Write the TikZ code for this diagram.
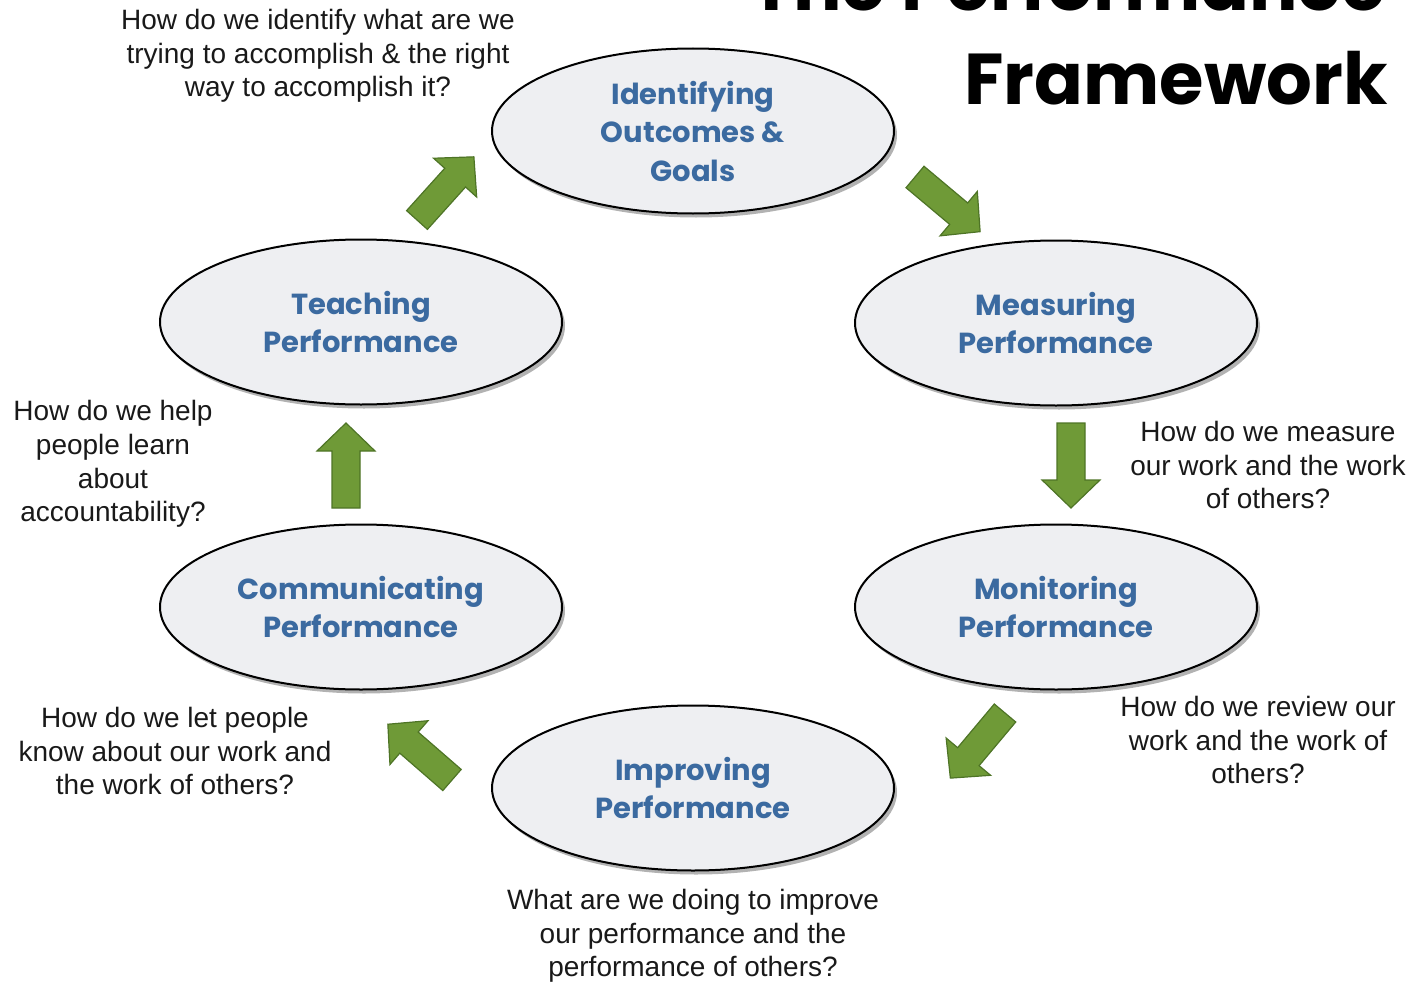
\documentclass[tikz,border=0pt]{standalone}
\usepackage{fontspec}
\setmainfont{Liberation Sans}
\newfontfamily\geofont{Poppins}
\usetikzlibrary{shapes.geometric,shadows}
\definecolor{ellfill}{HTML}{EEEFF2}
\definecolor{elltext}{HTML}{3B6AA0}
\definecolor{arrfill}{HTML}{6F9A37}
\definecolor{arrline}{HTML}{4E7426}
\newcommand{\garrow}[3]{%
  \begin{scope}[shift={(#1,#2)},rotate=#3]
    \draw[arrowshape] (0pt,-14pt) -- (57pt,-14pt) -- (57pt,-29pt) -- (85pt,0pt) -- (57pt,29pt) -- (57pt,14pt) -- (0pt,14pt) -- cycle;
  \end{scope}}
\tikzset{
  stage/.style={ellipse, draw=black, line width=2pt, fill=ellfill,
    minimum width=402pt, minimum height=165pt, inner sep=0pt,
    align=center, text=elltext,
    font=\geofont\bfseries\fontsize{29}{38.5}\selectfont,
    drop shadow={shadow xshift=3pt, shadow yshift=-4pt, opacity=0.3, fill=black}},
  question/.style={align=center, inner sep=0pt, text=black!90,
    font=\fontsize{28}{33.7}\selectfont},
  arrowshape/.style={fill=arrfill, draw=arrline, line width=1.2pt, line join=miter},
  titletext/.style={inner sep=0pt, anchor=base east, text=black,
    font=\geofont\bfseries\fontsize{72}{80}\selectfont}
}
\begin{document}
\begin{tikzpicture}[x=1pt,y=-1pt]
\useasboundingbox (0,0) rectangle (1416,982);
% title (top line is cut off at the picture's edge, as in the reference)
\node[titletext] (title1) at (1386,11) {The Performance};
\node[titletext] (title2) at (1388,104) {Framework};
% stages
\node[stage] (ident) at (693,131) {Identifying\\Outcomes \&\\Goals};
\node[stage] (teach) at (361,322) {Teaching\\Performance};
\node[stage] (meas) at (1056,323) {Measuring\\Performance};
\node[stage] (comm) at (361,607) {Communicating\\Performance};
\node[stage] (moni) at (1056,607) {Monitoring\\Performance};
\node[stage] (impr) at (693,788) {Improving\\Performance};
% questions
\node[question] (q1) at (318,56) {How do we identify what are we\\trying to accomplish \& the right\\way to accomplish it?};
\node[question] (q2) at (113,464) {How do we help\\people learn\\about\\accountability?};
\node[question] (q3) at (1268,465) {How do we measure\\our work and the work\\of others?};
\node[question] (q4) at (1258,740) {How do we review our\\work and the work of\\others?};
\node[question] (q5) at (175,751) {How do we let people\\know about our work and\\the work of others?};
\node[question] (q6) at (693,936) {What are we doing to improve\\our performance and the\\performance of others?};
% arrows
\garrow{417}{220}{48}
\garrow{915}{177}{-40}
\garrow{1071}{423}{-90}
\garrow{1005}{713}{-130}
\garrow{452}{780}{139}
\garrow{346}{508}{90}
\end{tikzpicture}
\end{document}
